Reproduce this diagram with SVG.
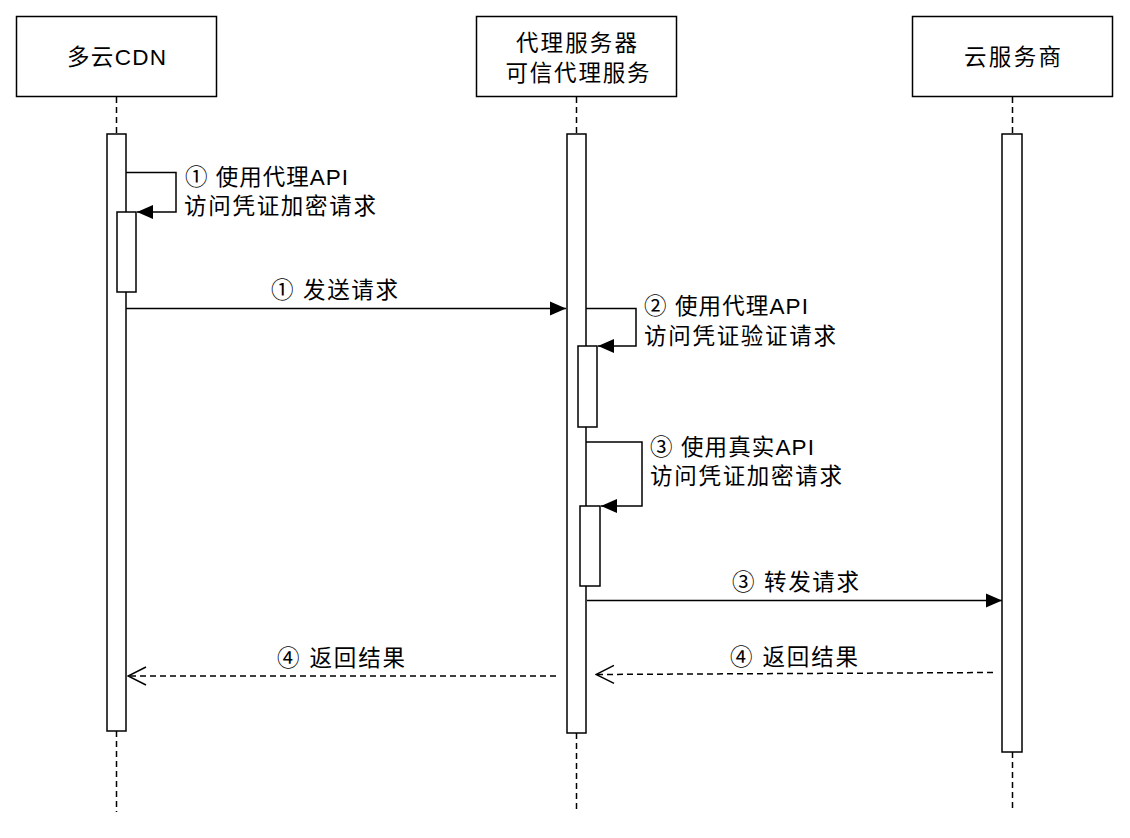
<svg xmlns="http://www.w3.org/2000/svg" width="1130" height="838" viewBox="0 0 1130 838">
<style>
.box{fill:#fff;stroke:#000;stroke-width:1.5}
.bar{fill:#fff;stroke:#000;stroke-width:1.5}
.life{stroke:#000;stroke-width:1.5;stroke-dasharray:6 4;fill:none}
.msg{stroke:#000;stroke-width:1.5;fill:none}
.ret{stroke:#000;stroke-width:1.5;fill:none;stroke-dasharray:6 4}
text{font-family:"Liberation Sans","Noto Sans CJK SC",sans-serif;font-size:22.5px;fill:#000;dominant-baseline:central}
.c{text-anchor:middle}
</style>
<defs>
<marker id="fill" markerWidth="16" markerHeight="16" viewBox="0 0 16 16" refX="16" refY="8" orient="auto" markerUnits="userSpaceOnUse">
<path d="M0,1 L16,8 L0,15 Z" fill="#000"/>
</marker>
<marker id="open" markerWidth="22" markerHeight="22" viewBox="0 0 22 22" refX="21" refY="11" orient="auto" markerUnits="userSpaceOnUse">
<path d="M3,2 L21,11 L3,20" fill="none" stroke="#000" stroke-width="1.5"/>
</marker>
</defs>
<rect width="1130" height="838" fill="#fff"/>
<g id="lifelines">
<line class="life" x1="116.5" y1="97" x2="116.5" y2="134"/>
<line class="life" x1="116.5" y1="731" x2="116.5" y2="812"/>
<line class="life" x1="576.5" y1="97" x2="576.5" y2="134"/>
<line class="life" x1="576.5" y1="733" x2="576.5" y2="812"/>
<line class="life" x1="1012.5" y1="97" x2="1012.5" y2="134"/>
<line class="life" x1="1012.5" y1="752" x2="1012.5" y2="812"/>
</g>
<g id="cdn">
<rect class="box" x="16.5" y="16.5" width="200" height="80"/>
<text class="c" x="116.5" y="57" textLength="99" lengthAdjust="spacing">多云CDN</text>
<rect class="bar" x="107" y="134" width="19" height="597"/>
<rect class="bar" x="117" y="212" width="19" height="80"/>
</g>
<g id="proxy">
<rect class="box" x="476.5" y="16.5" width="200" height="80"/>
<text class="c" x="576.5" y="43" textLength="121" lengthAdjust="spacing">代理服务器</text>
<text class="c" x="577.5" y="73" textLength="144" lengthAdjust="spacing">可信代理服务</text>
<rect class="bar" x="567" y="134" width="19" height="599"/>
<rect class="bar" x="578" y="346" width="19" height="81"/>
<rect class="bar" x="580" y="506" width="20" height="80"/>
</g>
<g id="cloud">
<rect class="box" x="912.5" y="16.5" width="200" height="80"/>
<text class="c" x="1012.5" y="57" textLength="97" lengthAdjust="spacing">云服务商</text>
<rect class="bar" x="1002" y="134" width="20" height="618"/>
</g>
<g id="connectors">
<polyline class="msg" points="126,172.5 176,172.5 176,212 137,212" marker-end="url(#fill)"/>
<line class="msg" x1="126" y1="308.5" x2="566" y2="308.5" marker-end="url(#fill)"/>
<polyline class="msg" points="586,308.5 636,308.5 636,346 598,346" marker-end="url(#fill)"/>
<polyline class="msg" points="586,442 642,442 642,506 601,506" marker-end="url(#fill)"/>
<line class="msg" x1="587" y1="600.5" x2="1002" y2="600.5" marker-end="url(#fill)"/>
<line class="ret" x1="993" y1="672.5" x2="596" y2="674.5" marker-end="url(#open)"/>
<line class="ret" x1="556" y1="676" x2="128" y2="676" marker-end="url(#open)"/>
</g>
<g id="labels">
<text x="185" y="177" textLength="163" lengthAdjust="spacing">① 使用代理API</text>
<text x="184" y="206" textLength="192" lengthAdjust="spacing">访问凭证加密请求</text>
<text x="271" y="290" textLength="127" lengthAdjust="spacing">① 发送请求</text>
<text x="644" y="306" textLength="164" lengthAdjust="spacing">② 使用代理API</text>
<text x="644" y="336" textLength="192" lengthAdjust="spacing">访问凭证验证请求</text>
<text x="650" y="447" textLength="164" lengthAdjust="spacing">③ 使用真实API</text>
<text x="650" y="476" textLength="192" lengthAdjust="spacing">访问凭证加密请求</text>
<text x="732" y="582" textLength="127" lengthAdjust="spacing">③ 转发请求</text>
<text x="277" y="658" textLength="128" lengthAdjust="spacing">④ 返回结果</text>
<text x="730" y="657" textLength="128" lengthAdjust="spacing">④ 返回结果</text>
</g>
</svg>
